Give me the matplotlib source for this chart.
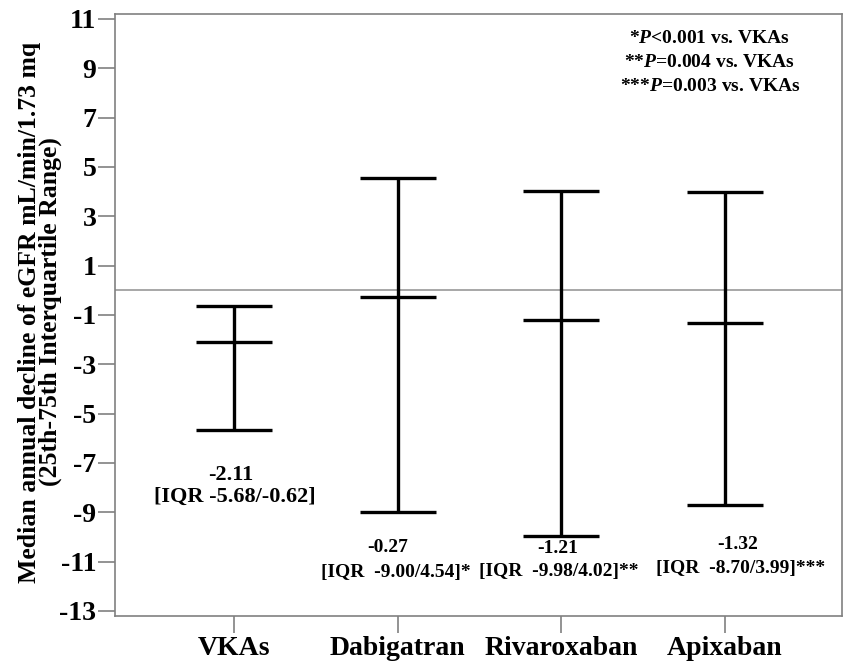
import matplotlib
matplotlib.use("Agg")
from matplotlib import pyplot as plt
import numpy as np

groups = ["VKAs", "Dabigatran", "Rivaroxaban", "Apixaban"]
median = [-2.11, -0.27, -1.21, -1.32]
q1 = [-5.68, -9.00, -9.98, -8.70]
q3 = [-0.62, 4.54, 4.02, 3.99]
stars = ["", "*", "**", "***"]
pvalues = [("*", "<0.001"), ("**", "=0.004"), ("***", "=0.003")]

plt.rcParams["font.family"] = ["Liberation Serif", "DejaVu Serif"]
plt.rcParams["axes.unicode_minus"] = False
plt.rcParams["mathtext.fontset"] = "custom"
plt.rcParams["mathtext.rm"] = "Liberation Serif:bold"
plt.rcParams["mathtext.bfit"] = "Liberation Serif:italic:bold"

fig = plt.figure(figsize=(8.44, 6.62), dpi=100)
ax = fig.add_axes([0.1363, 0.070, 0.8613, 0.9089])

x = np.arange(1, len(groups) + 1)
med = np.array(median)
lo = med - np.array(q1)
hi = np.array(q3) - med

ax.axhline(0, color="#a0a0a0", lw=1.3, zorder=1)
ax.errorbar(x, med, yerr=[lo, hi], fmt="none", ecolor="black",
            elinewidth=2.4, capsize=27.7, capthick=2.4, zorder=3)
ax.plot(x, med, ls="none", marker="_", ms=55.4, mew=2.4, color="black", zorder=3)

# annotation layout (x offset of number line, x offset of IQR line, y of both)
ann = [
    (-0.02, 0.003, -7.49, -8.38, 16),
    (-0.058, -0.009, -10.44, -11.46, 14),
    (-0.018, -0.012, -10.45, -11.38, 14),
    (0.083, 0.095, -10.32, -11.27, 14),
]
for i in range(len(groups)):
    dx1, dx2, y1, y2, fs = ann[i]
    ax.text(x[i] + dx1, y1, f"{median[i]:.2f}", ha="center", va="center",
            fontsize=fs, fontweight="bold")
    sp = " " if i == 0 else "  "
    ax.text(x[i] + dx2, y2, f"[IQR{sp}{q1[i]:.2f}/{q3[i]:.2f}]{stars[i]}",
            ha="center", va="center", fontsize=fs, fontweight="bold")

for k, (s, v) in enumerate(pvalues):
    ax.text(3.91, 10.22 - k * 0.99, s + r"$\mathbfit{P}$" + v + " vs. VKAs",
            ha="center", va="center", fontsize=14, fontweight="bold")

ax.set_xlim(0.272, 4.718)
ax.set_ylim(-13.19, 11.2)
ax.set_yticks(np.arange(-13, 12, 2))
ax.set_xticks(x)
ax.set_xticklabels(groups, fontsize=20, fontweight="bold")
for t in ax.get_yticklabels():
    t.set_fontsize(20)
    t.set_fontweight("bold")

for s in ax.spines.values():
    s.set_color("#808080")
    s.set_linewidth(1.2)
ax.tick_params(axis="both", length=12, width=1.2, color="#808080", pad=1.5)
ax.tick_params(axis="x", pad=3)

fig.text(40 / 844, 1 - 312 / 662,
         "Median annual decline of eGFR mL/min/1.73 mq\n(25th-75th Interquartile Range)",
         rotation=90, ha="center", va="center", fontsize=18.5, fontweight="bold",
         linespacing=0.92)

fig.savefig("out.png", dpi=100)
